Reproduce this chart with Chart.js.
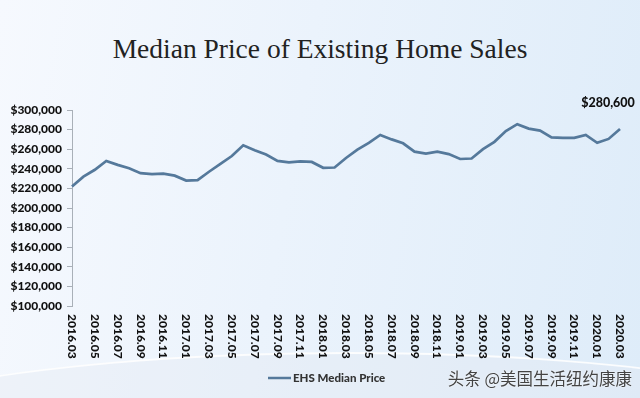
<!DOCTYPE html>
<html>
<head>
<meta charset="utf-8">
<script src="https://cdn.jsdelivr.net/npm/chart.js@4/dist/chart.umd.min.js"></script>
<style>
  html, body { margin: 0; padding: 0; }
  body {
    width: 640px; height: 398px; overflow: hidden; position: relative;
    background: linear-gradient(100deg, #f6f9fe 0%, #ebf3fc 45%, #deecf9 100%);
  }
  #swoosh {
    position: absolute; left: -200px; top: 352px; width: 1100px; height: 200px;
    border-radius: 50%; border-top: 2px solid rgba(255,255,255,0.85);
    background: rgba(225,232,240,0.35);
  }
  #wrap { position: absolute; left: 0; top: 0; width: 640px; height: 398px; }
  #title {
    position: absolute; left: 0; top: 33px; width: 640px; text-align: center;
    font-family: "Liberation Serif", "DejaVu Serif", serif; font-size: 27.5px; color: #222;
  }
  #mark {
    position: absolute; right: 8px; top: 366px;
    font-family: "Noto Sans CJK SC", sans-serif; font-size: 16.5px; color: #444;
    text-shadow: 0 0 2px #fff;
  }
</style>
</head>
<body>
<div id="swoosh"></div>
<div id="title">Median Price of Existing Home Sales</div>
<div id="wrap"><canvas id="chart" width="640" height="398"></canvas></div>
<div id="mark">头条 @美国生活纽约康康</div>
<script>
// monthly, 2016.03 - 2020.03
const months = [
    '2016.03','2016.04','2016.05','2016.06','2016.07','2016.08','2016.09','2016.10','2016.11','2016.12',
    '2017.01','2017.02','2017.03','2017.04','2017.05','2017.06','2017.07','2017.08','2017.09','2017.10','2017.11','2017.12',
    '2018.01','2018.02','2018.03','2018.04','2018.05','2018.06','2018.07','2018.08','2018.09','2018.10','2018.11','2018.12',
    '2019.01','2019.02','2019.03','2019.04','2019.05','2019.06','2019.07','2019.08','2019.09','2019.10','2019.11','2019.12',
    '2020.01','2020.02','2020.03'
];
const medianPrice = [
    222000, 232000, 239000, 248000, 244000, 240500, 235500, 234500, 235000, 233000,
    228000, 228500, 237000, 245000, 253000, 264000, 259000, 254500, 248000, 246500, 247500, 247000,
    241000, 241300, 251000, 259500, 266500, 274500, 270000, 266000, 257500, 255500, 257500, 255000,
    250000, 250500, 260000, 267500, 278500, 285500, 281000, 279000, 272000, 271500, 271500, 274500,
    266500, 270500, 280600
];
const seriesName = 'EHS Median Price';
const lineColor = '#55799b';
const labelFamily = 'Lato, "Liberation Sans", sans-serif';
const labelFont = '900 12px ' + labelFamily;

const fmt = v => '$' + v.toLocaleString('en-US');

// x labels read top-to-bottom, legend and last value label
const extras = {
    id: 'extras',
    afterDraw(chart) {
        const ctx = chart.ctx;
        const xs = chart.scales.x;
        const ys = chart.scales.y;
        ctx.save();
        ctx.fillStyle = '#111';
        ctx.font = labelFont;
        ctx.textAlign = 'left';
        ctx.textBaseline = 'middle';
        months.forEach((m, i) => {
            if (i % 2) return;
            ctx.save();
            ctx.translate(xs.getPixelForValue(i), ys.bottom + 8);
            ctx.rotate(Math.PI / 2);
            ctx.fillText(m, 0, 0);
            ctx.restore();
        });

        const last = medianPrice.length - 1;
        ctx.textAlign = 'center';
        ctx.font = '900 12.5px ' + labelFamily;
        ctx.fillText(fmt(medianPrice[last]), xs.getPixelForValue(last) - 12, ys.getPixelForValue(medianPrice[last]) - 26);

        ctx.strokeStyle = lineColor;
        ctx.lineWidth = 2.5;
        ctx.beginPath();
        ctx.moveTo(268, 378);
        ctx.lineTo(291, 378);
        ctx.stroke();
        ctx.fillStyle = '#333';
        ctx.textAlign = 'left';
        ctx.font = '900 11.5px ' + labelFamily;
        ctx.fillText(seriesName, 293, 378);
        ctx.restore();
    }
};

new Chart(document.getElementById('chart'), {
    type: 'line',
    data: {
        labels: months,
        datasets: [{
            label: seriesName,
            data: medianPrice,
            borderColor: lineColor,
            borderWidth: 2.7,
            pointRadius: 0,
            tension: 0,
            fill: false
        }]
    },
    options: {
        responsive: false,
        animation: false,
        layout: { padding: { top: 110, right: 20, left: 0, bottom: 0 } },
        plugins: { legend: { display: false }, title: { display: false }, tooltip: { enabled: false } },
        scales: {
            x: {
                offset: false,
                grid: { display: false },
                border: { display: false },
                ticks: { display: false },
                afterFit: s => { s.height = 92; }
            },
            y: {
                min: 100000,
                max: 300000,
                grid: { display: true, drawOnChartArea: false, drawTicks: true, tickLength: 5, color: '#a9b0b8' },
                border: { display: true, color: '#a9b0b8' },
                ticks: {
                    stepSize: 20000,
                    padding: 5,
                    color: '#111',
                    font: { family: labelFamily, size: 12, weight: 900 },
                    callback: v => fmt(v)
                },
                afterFit: s => { s.width = 72; }
            }
        }
    },
    plugins: [extras]
});
</script>
</body>
</html>
